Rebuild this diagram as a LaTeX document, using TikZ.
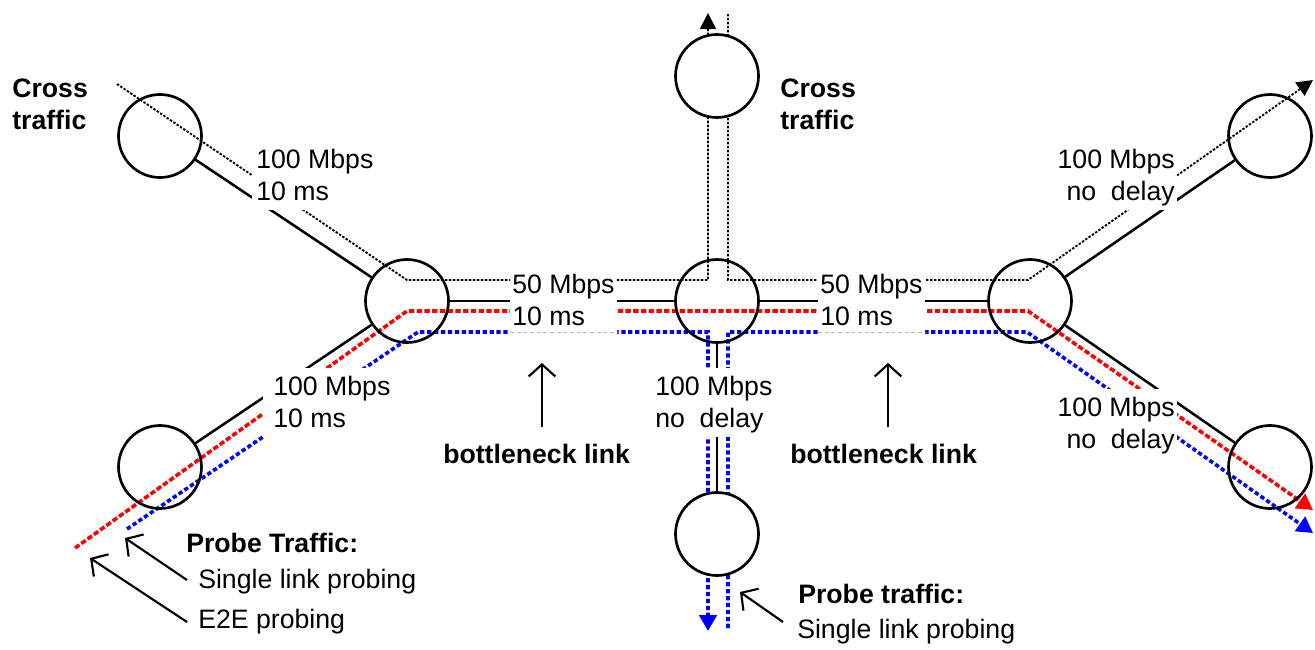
\documentclass[tikz,border=0pt]{standalone}
\usepackage{fontspec}
\setmainfont{Liberation Sans}
\usetikzlibrary{arrows.meta}
\pgfdeclarelayer{bg}
\pgfsetlayers{bg,main}
\newcommand\twoline[2]{\rule{0pt}{20.25pt}#1\\\rule[-7.1pt]{0pt}{7.1pt}#2}
\begin{document}
\begin{tikzpicture}[x=0.75pt,y=-0.75pt,
  router/.style={circle,draw,line width=2pt,minimum size=62.25pt,inner sep=0pt},
  wrouter/.style={router,fill=white},
  link/.style={line width=1.9pt},
  cross/.style={line width=1.4pt,dash pattern=on 1.8pt off 1.2pt},
  redp/.style={red,line width=2.7pt,dash pattern=on 4pt off 1.8pt},
  bluep/.style={blue,line width=2.7pt,dash pattern=on 3.2pt off 2pt},
  faint/.style={blue!30,line width=0.7pt,dash pattern=on 3pt off 2pt},
  tip/.style={-{Triangle[length=12pt,width=12pt]}},
  bigtip/.style={-{Triangle[length=12pt,width=13pt]}},
  opentip/.style={-{Straight Barb[length=9pt,width=20pt]},line width=1.6pt},
  lbl/.style={fill=white,inner ysep=0pt,inner xsep=1.5pt,font=\fontsize{20}{24}\selectfont},
  reg/.style={inner sep=0pt,font=\fontsize{20}{24}\selectfont},
  bold/.style={inner sep=0pt,font=\fontsize{20}{24}\selectfont\bfseries}]
\useasboundingbox (0,0) rectangle (1315,650);

% routers
\node[router]  (tl) at (160,136) {};
\node[router]  (l)  at (407,301) {};
\node[router]  (bl) at (160,467) {};
\node[router]  (c)  at (717,301) {};
\node[wrouter] (t)  at (717,76)  {};
\node[wrouter] (b)  at (717,534) {};
\node[router]  (r)  at (1030,301) {};
\node[router]  (tr) at (1270,136) {};
\node[router]  (br) at (1270,467) {};

% path coordinates
\coordinate (ca0) at (117,84);
\coordinate (ca1) at (407,280);
\coordinate (ca2) at (708,280);
\coordinate (ca3) at (708,13);
\coordinate (cb0) at (728,14);
\coordinate (cb1) at (728,280);
\coordinate (cb2) at (1028,280);
\coordinate (cb3) at (1313,80);
\coordinate (r0) at (75,548);
\coordinate (r1) at (407,311);
\coordinate (r2) at (1028,311);
\coordinate (r3) at (1313,510);
\coordinate (b0) at (127,529);
\coordinate (b1) at (418,332);
\coordinate (b2) at (708,332);
\coordinate (b3) at (708,631);
\coordinate (d0) at (728,628);
\coordinate (d1) at (728,332);
\coordinate (d2) at (1027,332);
\coordinate (d3) at (1313,533);

\begin{pgfonlayer}{bg}
  \draw[link] (tl) -- (l);
  \draw[link] (bl) -- (l);
  \draw[link] (l) -- (c);
  \draw[link] (c) -- (r);
  \draw[link] (r) -- (tr);
  \draw[link] (r) -- (br);
  \draw[link] (c) -- (b);
  \draw[cross,tip] (ca0) -- (ca1) -- (ca2) -- (ca3);
  \draw[cross,tip] (cb0) -- (cb1) -- (cb2) -- (cb3);
  \draw[redp,bigtip]  (r0) -- (r1) -- (r2) -- (r3);
  \draw[bluep,bigtip] (b0) -- (b1) -- (b2) -- (b3);
  \draw[bluep,bigtip] (d0) -- (d1) -- (d2) -- (d3);
\end{pgfonlayer}

% link labels
\node[lbl,anchor=north west,inner xsep=3pt,align=left] (lab1) at (252,141) {\twoline{100 Mbps}{10 ms}};
\node[lbl,anchor=north west,align=left] (lab2) at (510,266) {\twoline{50 Mbps}{10 ms}};
\node[lbl,anchor=north west,align=left] (lab3) at (818,266) {\twoline{50 Mbps}{10 ms}};
\node[lbl,anchor=north west,inner xsep=7.5pt,align=left] (lab4) at (263,368) {\twoline{100 Mbps}{10 ms}};
\node[lbl,anchor=north west,align=left] (lab5) at (653,368) {\twoline{100 Mbps}{no\ \ delay}};
\node[lbl,anchor=north east,align=right] (lab6) at (1177,141) {\twoline{100 Mbps}{no\ \ delay}};
\node[lbl,anchor=north east,align=right] (lab7) at (1177,389) {\twoline{100 Mbps}{no\ \ delay}};

% faint remains of the blue line under the bottleneck labels
\coordinate (f0) at (510,332);
\coordinate (f1) at (617,332);
\coordinate (f2) at (818,332);
\coordinate (f3) at (925,332);
\draw[faint] (f0) -- (f1);
\draw[faint] (f2) -- (f3);

% other texts
\node[bold,anchor=north west,align=left] (ct1) at (12,70) {\twoline{Cross}{traffic}};
\node[bold,anchor=north west,align=left] (ct2) at (780,70) {\twoline{Cross}{traffic}};
\node[bold,anchor=base west] (bn1) at (443,463) {bottleneck link};
\node[bold,anchor=base west] (bn2) at (790,463) {bottleneck link};
\node[bold,anchor=base west] (pt1) at (186,552) {Probe Traffic:};
\node[reg,anchor=base west] (sl1) at (198,588) {Single link probing};
\node[reg,anchor=base west] (e2e) at (198,628) {E2E probing};
\node[bold,anchor=base west] (pt2) at (798,603) {Probe traffic:};
\node[reg,anchor=base west] (sl2) at (797,638) {Single link probing};

% annotation arrows
\coordinate (a1s) at (542,427); \coordinate (a1e) at (542,363);
\coordinate (a2s) at (888,427); \coordinate (a2e) at (888,363);
\coordinate (a3s) at (187,580); \coordinate (a3e) at (125,538);
\coordinate (a4s) at (187,622); \coordinate (a4e) at (90,558);
\coordinate (a5s) at (783,622); \coordinate (a5e) at (740,592);
\draw[opentip] (a1s) -- (a1e);
\draw[opentip] (a2s) -- (a2e);
\draw[opentip] (a3s) -- (a3e);
\draw[opentip] (a4s) -- (a4e);
\draw[opentip] (a5s) -- (a5e);
\end{tikzpicture}
\end{document}
